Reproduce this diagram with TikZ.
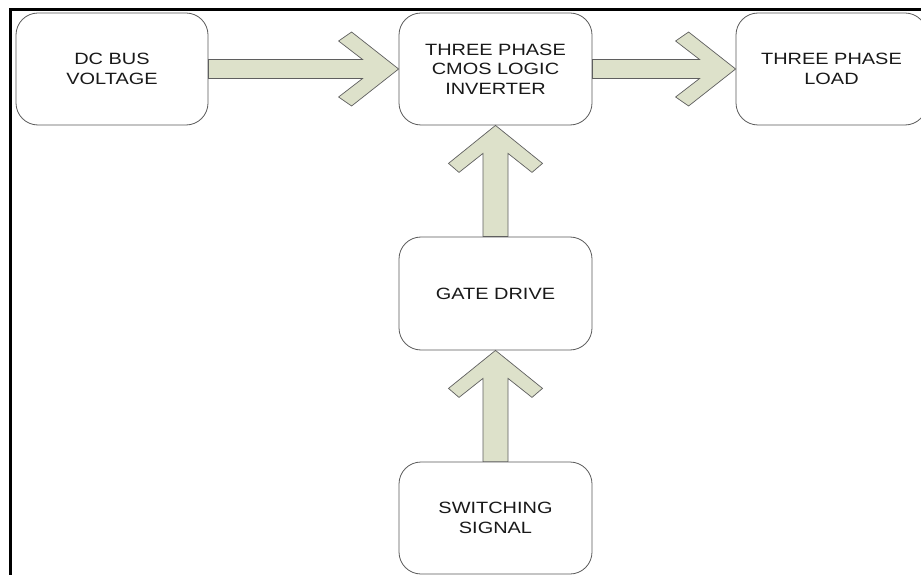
\documentclass[tikz,border=0pt]{standalone}
\usepackage{fontspec}
\usetikzlibrary{calc}
\newfontfamily\blocklabelfont[FakeStretch=1.22]{Liberation Sans}

\definecolor{chevronfill}{RGB}{221,225,202}
\definecolor{chevronedge}{RGB}{95,95,95}
\definecolor{boxedge}{RGB}{90,90,90}
\definecolor{labelink}{RGB}{25,25,25}

% thick block arrow pointing right, from the end of #1 to the tip #2
\newcommand\hchev[2]{%
  \filldraw[chevron]
    ($(#1)+(0,-9.5)$) -- ($(#2)+(-36,-9.5)$) -- ($(#2)+(-60,-28)$) --
    ($(#2)+(-47,-37)$) -- (#2) -- ($(#2)+(-47,37)$) -- ($(#2)+(-60,28)$) --
    ($(#2)+(-36,9.5)$) -- ($(#1)+(0,9.5)$) -- cycle;}
% thick block arrow pointing up, from #1 to the tip #2
\newcommand\vchev[2]{%
  \filldraw[chevron]
    ($(#1)+(-12.5,0)$) -- ($(#2)+(-12.5,28)$) -- ($(#2)+(-36.5,47)$) --
    ($(#2)+(-47,38)$) -- (#2) -- ($(#2)+(47,38)$) -- ($(#2)+(36.5,47)$) --
    ($(#2)+(12.5,28)$) -- ($(#1)+(12.5,0)$) -- cycle;}

\begin{document}
\begin{tikzpicture}[x=1bp,y=-1bp,
  blockbox/.style={draw=boxedge, line width=0.8bp, rounded corners=22bp,
    fill=white, align=center, text=labelink, inner sep=0pt,
    font=\blocklabelfont\fontsize{16.4}{19.5}\selectfont},
  chevron/.style={fill=chevronfill, draw=chevronedge, line width=0.7bp},
  frameline/.style={draw=black, line width=3bp}]

\useasboundingbox (0,0) rectangle (921,575);
\clip (0,0) rectangle (921,575);
\fill[white] (0,0) rectangle (921,575);

% blocks
\node[blockbox, minimum width=192bp, minimum height=112bp] (dc)   at (112,69)    {DC BUS\\VOLTAGE};
\node[blockbox, minimum width=193bp, minimum height=112bp] (inv)  at (495.5,69)  {THREE PHASE\\CMOS LOGIC\\INVERTER};
\node[blockbox, minimum width=191bp, minimum height=112bp] (load) at (831.5,69)  {THREE PHASE\\LOAD};
\node[blockbox, minimum width=193bp, minimum height=113bp] (gate) at (495.5,293.5) {GATE DRIVE};
\node[blockbox, minimum width=193bp, minimum height=112bp] (sw)   at (495.5,518) {SWITCHING\\SIGNAL};

% block arrows
\hchev{dc.east}{inv.west}
\hchev{inv.east}{load.west}
\vchev{gate.north}{inv.south}
\vchev{sw.north}{gate.south}

% frame edges
\draw[frameline] (10.5,580) -- (10.5,9.5) -- (930,9.5);
\end{tikzpicture}
\end{document}
